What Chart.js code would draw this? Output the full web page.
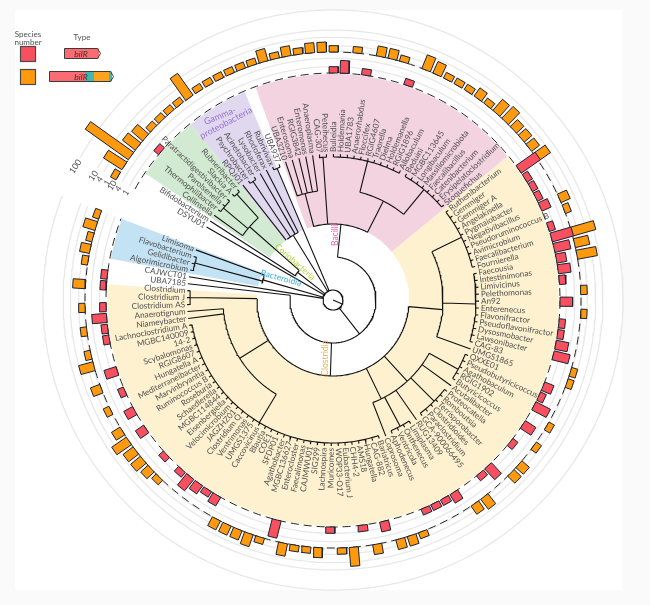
<!DOCTYPE html>
<html>
<head>
<meta charset="utf-8">
<title>bilR phylogeny</title>
<script src="https://cdn.jsdelivr.net/npm/chart.js@4"></script>
<style>
  html, body { margin: 0; padding: 0; background: #fafafa; }
  canvas { display: block; }
</style>
</head>
<body>
<canvas id="tree" width="650" height="605"></canvas>
<script>
// genera, clockwise from the gap in the ring
const genera = [
  'DSYU01', 'Bifidobacterium', 'Collinsella', 'Thermophilibacter', 'Parolsenella', 'Paratractidigestivibacter', 'Slackia A', 'Rubneribacter', 'RPQJ01', 'Psychrobacter',
  'Acinetobacter', 'Lysobacter', 'Rhodoferax', 'Rubrivivax', 'UBA937', 'UBA3210', 'Enterosoma', 'RGIG3842', 'Enteromonas', 'Anaeroplasma',
  'CAG-307', 'Peteihecus', 'Bulleidia', 'Holdemania', 'UBA1783', 'Anaerorhabdus', 'Floccifex', 'RGIG4607', 'Traorella', 'Dielma',
  'Holdemanella', 'RGIG1896', 'Allobaculum', 'Beduini', 'MGBC113645', 'Longibaculum', 'Massiliomicrobiota', 'Faecalibacillus', 'Catenibacterium', 'Erysipelatoclostridium',
  'Stoquefichus', 'Ruthenibacterium', 'Gemmiger', 'Gemmiger A', 'Angelakisella', 'Pygmaiobacter', 'Negativibacillus', 'Pseudoruminococcus B', 'Avimicrobium', 'Faecalibacterium',
  'Fournierella', 'Faecousia', 'Intestinimonas', 'Limivicinus', 'Pelethomonas', 'An92', 'Enterenecus', 'Flavonifractor', 'Pseudoflavonifractor', 'Dysosmobacter',
  'Lawsonibacter', 'CAG-83', 'UMGS1865', 'QXXE01', 'Pseudobutyricicoccus', 'Agathobaculum', 'RGIG1902', 'Butyricicoccus', 'Acutalibacter', 'Proteocatella',
  'Romboutsia', 'Terrisporobacter', 'Clostridioides', 'Paraclostridium', 'GCA-900066495', 'RUG13409', 'Limiplasma', 'Onthenecus', 'Ventricola', 'Aphodenecus',
  'Coprosoma', 'Bariatricus', 'CAG-882', 'Hungatella', 'AMS18', 'CHH4-2', 'Eubacterium J', 'WOP33-O17', 'Muricomes', 'Lachnospira',
  'SIG299', 'CAJMWU01', 'Faecalimonas', 'Enterocloster', 'MGBC136627', 'Agathobacter', 'SFDP01', 'COE1', 'Blautia', 'Caccovicinus',
  'UMGS1375', 'Ventrimonas', 'Clostridium Q', 'JAGZHZ01', 'Velocimicrobium', 'Eisenbergiella', 'MGBC114844', 'Schaedlerella', 'Roseburia', 'Ruminococcus B',
  'Marvinbryantia', 'Mediterraneibacter', 'Hungatella A', 'RGIG8607', 'Scybalomonas', '14-2', 'MGBC140009', 'Lachnoclostridium A', 'Niameybacter', 'Anaerotignum',
  'Clostridium AS', 'Clostridium J', 'Clostridium', 'UBA7185', 'CAJWCT01', 'Algorimicrobium', 'Gelidibacter', 'Flavobacterium', 'Limisoma'
];

// species number per genus, 0 = none
const redCounts = [
  0, 0, 0, 0, 1, 0, 0, 0, 0, 0,
  0, 0, 0, 0, 0, 0, 0, 0, 0, 0,
  0, 0, 1, 3, 0, 1, 0, 0, 0, 1,
  0, 0, 0, 0, 0, 0, 0, 0, 0, 0,
  0, 0, 12, 1, 1, 1, 2, 0, 1, 10,
  5, 2, 3, 1, 0, 3, 0, 1, 1, 3,
  5, 0, 0, 2, 1, 5, 0, 3, 0, 1,
  0, 0, 4, 1, 0, 0, 2, 1, 1, 1,
  0, 0, 0, 2, 0, 1, 0, 0, 1, 0,
  0, 0, 0, 6, 0, 0, 0, 0, 0, 2,
  1, 2, 4, 1, 0, 1, 0, 0, 2, 0,
  2, 0, 1, 0, 3, 0, 0, 1, 1, 4,
  1, 0, 1, 1, 0, 0, 0, 0, 0
];
const orangeCounts = [
  1, 10, 330, 5, 4, 1, 1, 1, 1, 18,
  1, 1, 1, 1, 1, 1, 3, 1, 2, 1,
  2, 2, 1, 0, 1, 0, 2, 2, 1, 0,
  4, 3, 1, 1, 1, 2, 1, 4, 5, 2,
  2, 2, 4, 0, 0, 0, 2, 1, 0, 13,
  4, 8, 0, 0, 1, 0, 1, 0, 0, 0,
  0, 1, 1, 0, 0, 0, 1, 0, 1, 0,
  2, 2, 0, 0, 3, 2, 0, 0, 0, 0,
  1, 2, 2, 0, 2, 0, 7, 1, 0, 2,
  1, 1, 3, 0, 1, 3, 2, 2, 2, 0,
  0, 0, 0, 0, 1, 2, 3, 3, 6, 2,
  0, 1, 0, 2, 0, 4, 1, 0, 1, 0,
  1, 0, 3, 0, 1, 2, 1, 3, 1
];
const tickValues = [1, 4, 10];
const outerTickValues = [1, 4, 10, 100];

// tree: [depth, from angle, to angle]
const treeArcs = [
  [10, 0, 360], [43, 6, 276.4], [76, -15, 27], [76, 95, 271],
  [76, -37, -27.2], [45, -57.3, -48.7], [111, -54.5, -42.3], [73, -77, -70],
  [110, -19, -8], [111, 14, 39.5], [110, 64, 109.6], [110, 119, 145.3], [110, 145.3, 158.8], [110, 211, 265.5]
];
// tree: [angle, from depth, to depth]
const treeStems = [
  [113, 0, 10], [142, 10, 43], [6, 43, 76], [182, 43, 76], [-31.6, 10, 76], [-52, 10, 45], [-48.7, 45, 111], [-74, 10, 73],
  [-14.7, 76, 110], [-4, 76, 143], [27, 76, 111], [14, 111, 143], [39.5, 111, 143], [-23, 10, 143], [-34, 76, 143],
  [-50, 111, 143], [-42.3, 111, 143], [-75, 73, 143], [95, 76, 110], [64, 110, 143], [91.6, 110, 143],
  [137.6, 76, 110], [119, 110, 143], [135, 110, 143], [154, 76, 110], [152, 110, 143], [238, 76, 110], [211, 110, 143], [271, 76, 143]
];
// genera grouped on one comb: [first, last] (1-based)
const treeCombs = [
  [4, 6], [7, 8], [10, 11], [14, 15], [21, 22], [23, 33], [34, 41], [42, 51], [52, 62], [64, 68],
  [70, 75], [77, 80], [82, 118], [121, 123], [126, 128]
];
// genera on their own branch: [genus, from depth]
const treeLeaves = [
  [1, 10], [2, 45], [3, 111], [9, 76], [12, 76], [13, 76], [16, 110], [17, 110], [18, 110], [19, 110], [20, 110],
  [63, 110], [69, 110], [76, 110], [81, 110], [119, 110], [120, 110], [124, 43], [125, 10], [129, 73]
];

const clades = ['Actinomycetota', 'Gamma', 'Bacilli', 'Clostridia', 'Bacteroidia'];
const cladeFrom = [-56, -39, -20, 50.5, -79.5];
const cladeTo = [-39, -23, 50.5, 274, -69];
const cladeColors = ['#d2e9d2', '#e0d8ee', '#f2d3df', '#fdf1cf', '#c3e2f4'];

const FIRST_ANGLE = -60, STEP = 2.735;
const INNER_BASE = 227, OUTER_BASE = 248, DECADE = 21;
const GAP_FROM = -60.7, GAP_TO = 291;
const COMB = 143, LEAF = 146, DISK = 76, RIM = 226;
const BAR_HALF = 4.6;
const INK = '#1c2433';

const leafAngle = i => FIRST_ANGLE + i * STEP;
const rad = d => d * Math.PI / 180;
const polar = (r, a) => ({ x: r * Math.sin(rad(a)), y: r * Math.cos(rad(a)) });
const radius = (base, v) => base + DECADE * Math.log10(v + 1);

function arcPoints(r, from, to) {
  const n = Math.max(2, Math.ceil(Math.abs(to - from)));
  const pts = [];
  for (let i = 0; i <= n; i++) pts.push(polar(r, from + (to - from) * i / n));
  return pts;
}

function barPoints(base, v, a) {
  const top = radius(base, v);
  const px = Math.cos(rad(a)) * BAR_HALF, py = -Math.sin(rad(a)) * BAR_HALF;
  const p0 = polar(base, a), p1 = polar(top, a);
  return [
    { x: p0.x - px, y: p0.y - py }, { x: p1.x - px, y: p1.y - py },
    { x: p1.x + px, y: p1.y + py }, { x: p0.x + px, y: p0.y + py },
    { x: p0.x - px, y: p0.y - py }
  ];
}

function treePoints() {
  const gap = { x: NaN, y: NaN };
  const pts = [];
  treeArcs.forEach(([r, from, to]) => pts.push(...arcPoints(r, from, to), gap));
  treeStems.forEach(([a, r0, r1]) => pts.push(polar(r0, a), polar(r1, a), gap));
  treeCombs.forEach(([first, last]) => {
    pts.push(...arcPoints(COMB, leafAngle(first - 1), leafAngle(last - 1)), gap);
    for (let g = first; g <= last; g++) pts.push(polar(COMB, leafAngle(g - 1)), polar(LEAF, leafAngle(g - 1)), gap);
  });
  treeLeaves.forEach(([g, r0]) => pts.push(polar(r0, leafAngle(g - 1)), polar(LEAF, leafAngle(g - 1)), gap));
  return pts;
}

const line = (data, extra) => Object.assign({ data, showLine: true, pointRadius: 0, borderWidth: 1, fill: false }, extra);
const datasets = [];

clades.forEach((name, i) => {
  const pts = [...arcPoints(RIM, cladeFrom[i], cladeTo[i]), ...arcPoints(DISK, cladeTo[i], cladeFrom[i])];
  pts.push(pts[0]);
  datasets.push(line(pts, { label: name, fill: 'shape', backgroundColor: cladeColors[i], borderWidth: 0, order: 60 }));
});

tickValues.forEach(v => datasets.push(line(arcPoints(radius(INNER_BASE, v), GAP_FROM, GAP_TO), { borderColor: '#e8e8e8', borderWidth: 1.3, order: 50 })));
outerTickValues.forEach(v => datasets.push(line(arcPoints(radius(OUTER_BASE, v), GAP_FROM, GAP_TO), { borderColor: '#e8e8e8', borderWidth: 1.3, order: 50 })));

[INNER_BASE, OUTER_BASE].forEach(r => datasets.push(line(arcPoints(r, GAP_FROM, GAP_TO), { borderColor: '#222', borderWidth: 1, borderDash: [8, 5], order: 40 })));

datasets.push(line(treePoints(), { label: 'tree', borderColor: '#111', borderWidth: 1.1, order: 30 }));

genera.forEach((g, i) => {
  if (redCounts[i]) datasets.push(line(barPoints(INNER_BASE, redCounts[i], leafAngle(i)), { label: g, fill: 'shape', backgroundColor: '#f8505e', borderColor: INK, borderWidth: 1, order: 10 }));
  if (orangeCounts[i]) datasets.push(line(barPoints(OUTER_BASE, orangeCounts[i], leafAngle(i)), { label: g, fill: 'shape', backgroundColor: '#ff9a0e', borderColor: INK, borderWidth: 1, order: 10 }));
});

function rotatedText(ctx, text, x, y, deg, align) {
  ctx.save();
  ctx.translate(x, y);
  ctx.rotate(rad(deg));
  ctx.textAlign = align || 'center';
  ctx.textBaseline = 'middle';
  ctx.fillText(text, 0, 0);
  ctx.restore();
}

function geneArrow(ctx, x0, x1, y, h, parts) {
  parts.forEach(([from, to, color]) => {
    ctx.fillStyle = color;
    ctx.fillRect(from, y, to - from, h);
  });
  ctx.beginPath();
  ctx.moveTo(x0, y);
  ctx.lineTo(x1 - 3, y);
  ctx.lineTo(x1, y + h / 2);
  ctx.lineTo(x1 - 3, y + h);
  ctx.lineTo(x0, y + h);
  ctx.closePath();
  ctx.strokeStyle = '#3b3b3b';
  ctx.lineWidth = 1;
  ctx.stroke();
}

const panel = {
  id: 'panel',
  beforeDraw(chart) {
    chart.ctx.fillStyle = '#fff';
    chart.ctx.fillRect(15, 10, 607, 580);
  }
};

const texts = {
  id: 'texts',
  afterDatasetsDraw(chart) {
    const { ctx, scales: { x, y } } = chart;
    const at = (r, a) => { const p = polar(r, a); return [x.getPixelForValue(p.x), y.getPixelForValue(p.y)]; };

    // genus names
    ctx.font = '8.2px Lato';
    ctx.fillStyle = '#505050';
    genera.forEach((g, i) => {
      const a = leafAngle(i);
      const right = a >= 0 && a < 180;
      const [px, py] = at(LEAF + 2, a);
      rotatedText(ctx, g, px, py, right ? a - 90 : a + 90, right ? 'left' : 'right');
    });

    // clade names
    ctx.font = '8.5px Lato';
    ctx.fillStyle = '#ec5aa6'; rotatedText(ctx, 'Bacilli', 335, 235, -90);
    ctx.fillStyle = '#aed63a'; rotatedText(ctx, 'Coriobacteria', 295, 262, 42);
    ctx.fillStyle = '#3aaee0'; rotatedText(ctx, 'Bacteroidia', 281, 278, 15);
    ctx.fillStyle = '#f4b24a'; rotatedText(ctx, 'Clostridia', 325, 358, -90);
    ctx.font = '9px Lato';
    ctx.fillStyle = '#9a72d2';
    rotatedText(ctx, 'Gamma-', 220, 116, -22);
    rotatedText(ctx, 'proteobacteria', 226, 123, -28);

    // axis ticks in the gap
    ctx.font = '8.5px Lato';
    ctx.fillStyle = '#505050';
    tickValues.forEach(v => { const [px, py] = at(radius(INNER_BASE, v), -62.6); rotatedText(ctx, String(v), px, py, -55); });
    outerTickValues.forEach(v => { const [px, py] = at(radius(OUTER_BASE, v), -62.6); rotatedText(ctx, String(v), px, py, -55); });

    // legend
    ctx.font = '8px Lato';
    ctx.fillStyle = '#505050';
    ctx.textAlign = 'center';
    ctx.textBaseline = 'middle';
    ctx.fillText('Species', 28, 34);
    ctx.fillText('number', 28, 42);
    ctx.fillText('Type', 82, 37);
    ctx.strokeStyle = '#4a4a4a';
    ctx.lineWidth = 1.2;
    ctx.fillStyle = '#f8505e';
    ctx.fillRect(20.5, 46.5, 15, 15); ctx.strokeRect(20.5, 46.5, 15, 15);
    ctx.fillStyle = '#ff9a0e';
    ctx.fillRect(20.5, 69.5, 15, 15); ctx.strokeRect(20.5, 69.5, 15, 15);
    geneArrow(ctx, 64.5, 100.5, 48.5, 10, [[64.5, 99, '#fb6b72']]);
    geneArrow(ctx, 49.5, 113.5, 71.5, 10, [[49.5, 85, '#fb6b72'], [85, 94, '#3fb8ad'], [94, 109, '#ffa31f'], [109, 112, '#3fb8ad']]);
    ctx.font = 'italic 8.5px Lato';
    ctx.fillStyle = '#333';
    ctx.fillText('bilR', 81, 54);
    ctx.fillText('bilR', 81, 77);
  }
};

new Chart(document.getElementById('tree'), {
  type: 'scatter',
  data: { datasets },
  plugins: [panel, texts],
  options: {
    responsive: false,
    animation: false,
    layout: { padding: 0 },
    scales: {
      x: { type: 'linear', display: false, min: -333, max: 317 },
      y: { type: 'linear', display: false, min: -305, max: 300 }
    },
    plugins: { legend: { display: false }, tooltip: { enabled: false } }
  }
});
</script>
</body>
</html>
